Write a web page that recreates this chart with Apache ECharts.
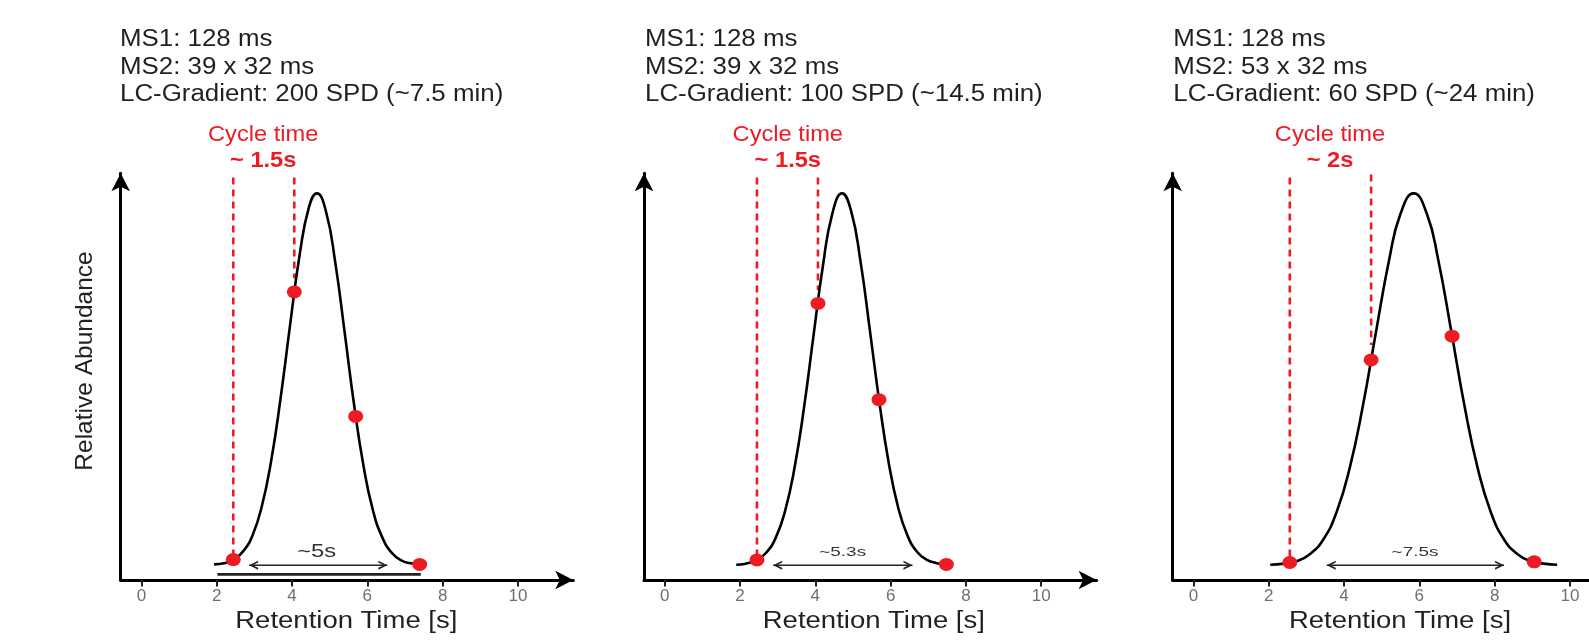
<!DOCTYPE html>
<html><head><meta charset="utf-8">
<script src="https://cdn.jsdelivr.net/npm/echarts@6/dist/echarts.min.js"></script>
<style>html,body{margin:0;padding:0;background:#fff;overflow:hidden}#c{width:1589px;height:643px}</style>
</head><body><div id="c"></div>
<script>
// ---------- data ----------
const xTicks = [0, 2, 4, 6, 8, 10];
const headerLines1 = ['MS1: 128 ms', 'MS2: 39 x 32 ms', 'LC-Gradient: 200 SPD (~7.5 min)'];
const headerLines2 = ['MS1: 128 ms', 'MS2: 39 x 32 ms', 'LC-Gradient: 100 SPD (~14.5 min)'];
const headerLines3 = ['MS1: 128 ms', 'MS2: 53 x 32 ms', 'LC-Gradient: 60 SPD (~24 min)'];
const cycleTitle = 'Cycle time';
const cycleLabels = ['~ 1.5s', '~ 1.5s', '~ 2s'];
const widthLabels = ['~5s', '~5.3s', '~7.5s'];
const xAxisName = 'Retention Time [s]';
const yAxisName = 'Relative Abundance';

const curve1X = [1.93, 2.2, 2.45, 2.7, 2.95, 3.2, 3.45, 3.7, 3.95, 4.2, 4.45, 4.66, 4.9, 5.15, 5.4, 5.65, 5.9, 6.15, 6.4, 6.65, 6.9, 7.15, 7.42];
const curve1Y = [0.002, 0.005, 0.015, 0.037, 0.080, 0.159, 0.283, 0.452, 0.647, 0.833, 0.963, 1.0, 0.952, 0.813, 0.624, 0.430, 0.266, 0.147, 0.074, 0.033, 0.013, 0.005, 0.001];
const curve2X = [1.9, 2.15, 2.45, 2.7, 2.95, 3.2, 3.45, 3.7, 3.95, 4.2, 4.45, 4.71, 4.95, 5.2, 5.45, 5.7, 5.95, 6.2, 6.45, 6.7, 6.95, 7.2, 7.51];
const curve2Y = [0.001, 0.004, 0.014, 0.034, 0.074, 0.147, 0.263, 0.424, 0.616, 0.804, 0.945, 1.0, 0.953, 0.817, 0.631, 0.439, 0.275, 0.155, 0.079, 0.036, 0.015, 0.006, 0.001];
const curve3X = [2.04, 2.4, 2.75, 3.1, 3.45, 3.8, 4.15, 4.5, 4.85, 5.2, 5.5, 5.85, 6.2, 6.5, 6.85, 7.2, 7.55, 7.9, 8.25, 8.6, 8.95, 9.3, 9.66];
const curve3Y = [0.001, 0.004, 0.011, 0.030, 0.069, 0.142, 0.261, 0.428, 0.628, 0.822, 0.945, 1.0, 0.945, 0.822, 0.628, 0.428, 0.261, 0.142, 0.069, 0.030, 0.011, 0.004, 0.001];

const points1X = [2.44, 4.06, 5.69, 7.39];
const points1Y = [0.015, 0.735, 0.40, 0.002];
const points2X = [2.45, 4.07, 5.69, 7.48];
const points2Y = [0.014, 0.704, 0.445, 0.002];
const points3X = [2.56, 4.72, 6.87, 9.05];
const points3Y = [0.007, 0.552, 0.616, 0.009];

// dashed cycle-time guide lines: [first, second]
const cycle1X = [2.44, 4.06], cycle1Top = [1.043, 1.043], cycle1Bottom = [0.015, 0.772];
const cycle2X = [2.45, 4.07], cycle2Top = [1.043, 1.043], cycle2Bottom = [0.014, 0.74];
const cycle3X = [2.56, 4.72], cycle3Top = [1.043, 1.051], cycle3Bottom = [0.007, 0.592];

// peak width double arrows
const widthFrom = [2.86, 2.88, 3.54];
const widthTo = [6.53, 6.58, 8.25];
const widthY = [0.0, 0.0, 0.0];

// baseline bar in panel 1
const barX = [2.02, 7.42];
const barY = [-0.025, -0.025];

// ---------- layout / style ----------
const FONT = '"Liberation Sans", Arial, Helvetica, sans-serif';
const RED = '#ed1c24';
const INK = '#231f20';
const gridLefts = [120.7, 644, 1172.7];
const headerLeft = [120, 645, 1173.3];
const cycleCenter = [263.2, 787.8, 1330];
const xTitleCenter = [346.3, 873.8, 1400];
const widthLabelPos = [[316.7, 551.7], [842.7, 552.7], [1415, 552.7]];
const widthLabelSize = [19, 13.5, 13.5];
const widthLabelScale = [1.25, 1.4, 1.4];

const panels = [
  {header: headerLines1, cx: curve1X, cy: curve1Y, px: points1X, py: points1Y, gx: cycle1X, gt: cycle1Top, gb: cycle1Bottom},
  {header: headerLines2, cx: curve2X, cy: curve2Y, px: points2X, py: points2Y, gx: cycle2X, gt: cycle2Top, gb: cycle2Bottom},
  {header: headerLines3, cx: curve3X, cy: curve3Y, px: points3X, py: points3Y, gx: cycle3X, gt: cycle3Top, gb: cycle3Bottom}
];

const chevRight = 'path://M0,0L10,5L0,10L0,8L6,5L0,2Z';
const chevLeft = 'path://M10,0L0,5L10,10L10,8L4,5L10,2Z';

const grids = [], xAxes = [], yAxes = [], series = [], graphics = [];
panels.forEach((p, i) => {
  grids.push({left: gridLefts[i], top: 173.3, width: 452.6, height: 406.7, containLabel: false, outerBoundsMode: 'none'});
  xAxes.push({
    gridIndex: i, type: 'value', min: -0.55, max: 11.47,
    axisLine: {show: true, onZero: false, symbol: ['none', 'arrow'], symbolSize: [14, 18], lineStyle: {color: '#000', width: 3}},
    axisTick: {show: true, customValues: xTicks, length: 6.5, lineStyle: {color: INK, width: 2}},
    axisLabel: {show: true, customValues: xTicks, margin: 8, fontSize: 17, color: '#707070', fontFamily: FONT},
    splitLine: {show: false}
  });
  yAxes.push({
    gridIndex: i, type: 'value', min: -0.04, max: 1.054,
    axisLine: {show: true, onZero: false, symbol: ['none', 'arrow'], symbolSize: [14, 18], lineStyle: {color: '#000', width: 3}},
    axisTick: {show: false}, axisLabel: {show: false}, splitLine: {show: false}
  });
  // dashed cycle lines
  p.gx.forEach((x, k) => {
    series.push({type: 'line', xAxisIndex: i, yAxisIndex: i, clip: false, silent: true, symbol: 'none', z: 2,
      data: [[x, p.gt[k]], [x, p.gb[k]]],
      lineStyle: {color: RED, width: 2.6, type: [7, 5]}});
  });
  // chromatographic peak
  series.push({type: 'line', xAxisIndex: i, yAxisIndex: i, smooth: true, symbol: 'none', silent: true, z: 3,
    data: p.cx.map((x, k) => [x, p.cy[k]]),
    lineStyle: {color: '#000', width: 2.6}});
  // sampling points
  series.push({type: 'scatter', xAxisIndex: i, yAxisIndex: i, silent: true, z: 5,
    symbol: 'circle', symbolSize: [15, 13],
    data: p.px.map((x, k) => [x, p.py[k]]),
    itemStyle: {color: RED, opacity: 1}});
  // width double arrow
  series.push({type: 'line', xAxisIndex: i, yAxisIndex: i, silent: true, z: 4, showSymbol: true,
    data: [
      {value: [widthFrom[i], widthY[i]], symbol: chevLeft, symbolSize: [9, 9], symbolOffset: [4.5, 0]},
      {value: [widthTo[i], widthY[i]], symbol: chevRight, symbolSize: [9, 9], symbolOffset: [-4.5, 0]}
    ],
    itemStyle: {color: '#222', opacity: 1},
    lineStyle: {color: '#222', width: 1.5}});
  // header text
  graphics.push({type: 'text', x: headerLeft[i], y: 67.4, scaleX: 1.125, silent: true,
    style: {text: p.header.join('\n'), fill: INK, fontSize: 23, fontFamily: FONT, lineHeight: 27.5, align: 'left', verticalAlign: 'middle'}});
  graphics.push({type: 'text', x: cycleCenter[i], y: 135.5, scaleX: 1.1, silent: true,
    style: {text: cycleTitle, fill: RED, fontSize: 21.5, fontFamily: FONT, align: 'center', verticalAlign: 'middle'}});
  graphics.push({type: 'text', x: cycleCenter[i], y: 161.5, scaleX: 1.1, silent: true,
    style: {text: cycleLabels[i], fill: RED, fontSize: 21.5, fontWeight: 'bold', fontFamily: FONT, align: 'center', verticalAlign: 'middle'}});
  graphics.push({type: 'text', x: widthLabelPos[i][0], y: widthLabelPos[i][1], scaleX: widthLabelScale[i], silent: true,
    style: {text: widthLabels[i], fill: '#333', fontSize: widthLabelSize[i], fontFamily: FONT, align: 'center', verticalAlign: 'middle'}});
  graphics.push({type: 'text', x: xTitleCenter[i], y: 621.7, scaleX: 1.17, silent: true,
    style: {text: xAxisName, fill: INK, fontSize: 23.5, fontFamily: FONT, align: 'center', verticalAlign: 'middle'}});
});
// panel-1 baseline bar
series.push({type: 'line', xAxisIndex: 0, yAxisIndex: 0, silent: true, clip: false, symbol: 'none', z: 2,
  data: barX.map((x, k) => [x, barY[k]]), lineStyle: {color: '#222', width: 2.6}});
// y axis title
graphics.push({type: 'text', x: 85, y: 361, rotation: Math.PI / 2, silent: true,
  style: {text: yAxisName, fill: INK, fontSize: 24.5, fontFamily: FONT, align: 'center', verticalAlign: 'middle'}});

const chart = echarts.init(document.getElementById('c'), null, {renderer: 'canvas'});
chart.setOption({
  animation: false,
  backgroundColor: '#fff',
  textStyle: {fontFamily: FONT},
  grid: grids, xAxis: xAxes, yAxis: yAxes, series: series,
  graphic: {elements: graphics}
});
</script></body></html>
